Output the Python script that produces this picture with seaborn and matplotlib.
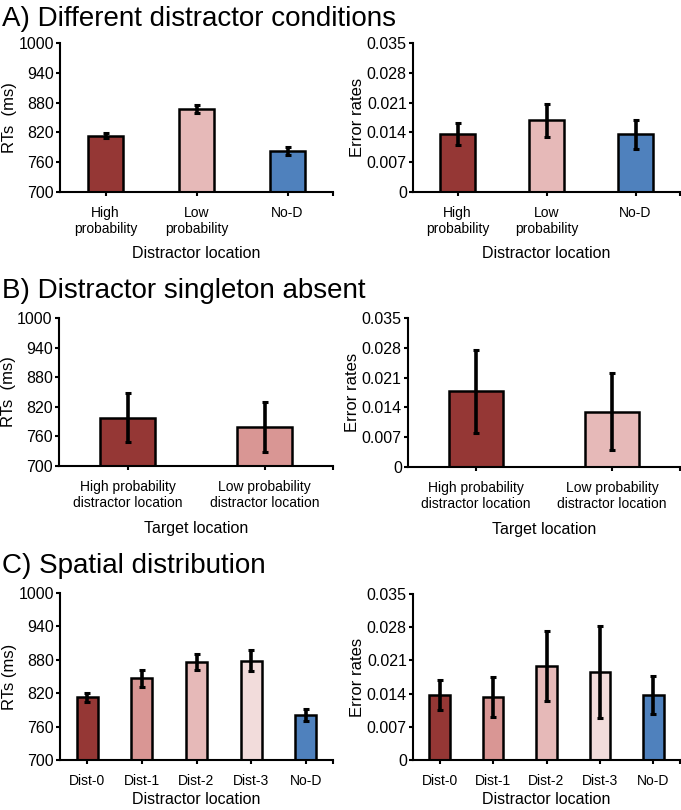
import matplotlib
matplotlib.use("Agg")
from matplotlib import pyplot as plt
import seaborn as sb
import pandas as pd
import numpy as np

sb.set_style("white")
plt.rcParams["font.family"] = ["Liberation Sans", "DejaVu Sans"]
plt.rcParams["text.color"] = "black"
plt.rcParams["axes.labelcolor"] = "black"
plt.rcParams["xtick.color"] = "black"
plt.rcParams["ytick.color"] = "black"

# colours (Excel style reds + blue)
DARK = "#953735"
MID = "#d99694"
LIGHT = "#e6b9b8"
PALE = "#f2dcdb"
BLUE = "#4f81bd"

# A) different distractor conditions
a_cats = ["High\nprobability", "Low\nprobability", "No-D"]
a_rt = [813, 867, 782]
a_rt_err = [5, 8, 8]
a_er = [0.0136, 0.0168, 0.0136]
a_er_err = [0.0025, 0.0038, 0.0034]
a_cols = [DARK, LIGHT, BLUE]

# B) distractor singleton absent
b_cats = ["High probability\ndistractor location", "Low probability\ndistractor location"]
b_rt = [798, 779]
b_rt_err = [50, 51]
b_er = [0.0178, 0.0130]
b_er_err = [0.0098, 0.0091]
b_cols_rt = [DARK, MID]
b_cols_er = [DARK, LIGHT]

# C) spatial distribution
c_cats = ["Dist-0", "Dist-1", "Dist-2", "Dist-3", "No-D"]
c_rt = [813, 847, 876, 878, 781]
c_rt_err = [8, 15, 15, 19, 11]
c_er = [0.0137, 0.0132, 0.0198, 0.0185, 0.0137]
c_er_err = [0.0031, 0.0042, 0.0073, 0.0097, 0.0041]
c_cols = [DARK, MID, LIGHT, PALE, BLUE]

W, H = 681, 810
fig = plt.figure(figsize=(W / 100, H / 100), dpi=100)


def box(l, r, t, b):
    return [l / W, 1 - b / H, (r - l) / W, (b - t) / H]


def panel(rect, cats, vals, errs, cols, ylim, yticks, yfmt, ylabel, xlabel, width, xpad):
    ax = fig.add_axes(rect)
    df = pd.DataFrame({"cat": cats, "val": vals})
    sb.barplot(data=df, x="cat", y="val", hue="cat", palette=cols, legend=False,
               order=cats, width=width, edgecolor="black", linewidth=1.8,
               saturation=1, errorbar=None, ax=ax)
    ax.errorbar(np.arange(len(cats)), vals, yerr=errs, fmt="none", ecolor="black",
                elinewidth=2.6, capsize=2, capthick=2.2, zorder=5)
    ax.set_xlim(-0.5, len(cats) - 0.5)
    ax.set_ylim(*ylim)
    ax.set_yticks(yticks)
    ax.set_yticklabels([yfmt(v) for v in yticks])
    ax.set_xticks([len(cats) - 0.5], minor=True)
    sb.despine(ax=ax)
    for s in ["left", "bottom"]:
        ax.spines[s].set_linewidth(1.5)
        ax.spines[s].set_color("black")
    ax.tick_params(axis="y", which="major", direction="out", length=3, width=1.5,
                   left=True, labelsize=11.5, pad=1.5)
    ax.tick_params(axis="x", which="both", direction="out", length=3, width=1.5,
                   bottom=True, labelsize=10, pad=7)
    ax.set_ylabel(ylabel, fontsize=12, labelpad=1)
    ax.set_xlabel(xlabel, fontsize=11.5, labelpad=xpad)
    return ax


rt_ticks = [700, 760, 820, 880, 940, 1000]
er_ticks = [0, 0.007, 0.014, 0.021, 0.028, 0.035]
rt_fmt = lambda v: "%d" % v
er_fmt = lambda v: "0" if v == 0 else ("%.3f" % v)

panel(box(60, 333, 43, 192), a_cats, a_rt, a_rt_err, a_cols, (700, 1000), rt_ticks,
      rt_fmt, "RTs  (ms)", "Distractor location", 0.385, 7)
panel(box(413, 680, 43, 192), a_cats, a_er, a_er_err, a_cols, (0, 0.035), er_ticks,
      er_fmt, "Error rates", "Distractor location", 0.385, 7)
panel(box(59, 333, 318, 466), b_cats, b_rt, b_rt_err, b_cols_rt, (700, 1000), rt_ticks,
      rt_fmt, "RTs  (ms)", "Target location", 0.4, 8)
panel(box(408, 680, 318, 467), b_cats, b_er, b_er_err, b_cols_er, (0, 0.035), er_ticks,
      er_fmt, "Error rates", "Target location", 0.4, 8)
panel(box(60, 333, 593, 760), c_cats, c_rt, c_rt_err, c_cols, (700, 1000), rt_ticks,
      rt_fmt, "RTs (ms)", "Distractor location", 0.385, 3)
panel(box(413, 680, 594, 760), c_cats, c_er, c_er_err, c_cols, (0, 0.035), er_ticks,
      er_fmt, "Error rates", "Distractor location", 0.385, 3)

fig.text(2 / W, 1 - 26 / H, "A) Different distractor conditions", fontsize=20, ha="left")
fig.text(2 / W, 1 - 298 / H, "B) Distractor singleton absent", fontsize=20, ha="left")
fig.text(2 / W, 1 - 573 / H, "C) Spatial distribution", fontsize=20, ha="left")

fig.savefig("out.png", dpi=100)
